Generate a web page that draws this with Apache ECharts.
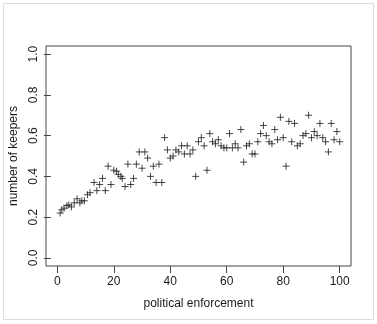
<!DOCTYPE html>
<html>
<head>
<meta charset="utf-8">
<script src="https://cdn.jsdelivr.net/npm/echarts@6/dist/echarts.min.js"></script>
<style>
  html, body { margin: 0; padding: 0; background: #fff; }
  #chart { width: 377px; height: 324px; }
</style>
</head>
<body>
<div id="chart"></div>
<script>
// Political enforcement level and the share of keepers observed at each level
const enforcement = [
  1, 1.6, 2.4, 3.4, 4.1, 5, 6, 7, 8, 8.7,
  9.6, 10.7, 11.6, 13, 14, 15, 16, 17, 18, 19,
  20, 21, 21.6, 22.5, 23, 24, 25, 26, 27, 28,
  29, 30, 31, 32, 33, 34, 35, 36, 37, 38,
  39, 40, 41, 42, 43, 44, 45, 46, 47, 48,
  49, 50, 51, 52, 53, 54, 55, 56, 57, 58,
  59, 60, 61, 62, 63, 64, 65, 66, 67, 68,
  69, 70, 71, 72, 73, 74, 75, 76, 77, 78,
  79, 80, 81, 82, 83, 84, 85, 86, 87, 88,
  89, 90, 91, 92, 93, 94, 95, 96, 97, 98,
  99, 100
];
const keepers = [
  0.22, 0.236, 0.244, 0.256, 0.26, 0.25, 0.27, 0.29, 0.27, 0.28,
  0.28, 0.31, 0.32, 0.37, 0.33, 0.36, 0.39, 0.33, 0.45, 0.36,
  0.43, 0.425, 0.41, 0.40, 0.39, 0.35, 0.46, 0.36, 0.39, 0.46,
  0.52, 0.44, 0.52, 0.49, 0.40, 0.45, 0.37, 0.46, 0.37, 0.59,
  0.53, 0.49, 0.50, 0.53, 0.52, 0.55, 0.51, 0.55, 0.51, 0.53,
  0.40, 0.57, 0.59, 0.55, 0.43, 0.61, 0.57, 0.56, 0.58, 0.55,
  0.54, 0.54, 0.61, 0.54, 0.56, 0.54, 0.63, 0.47, 0.55, 0.56,
  0.51, 0.51, 0.57, 0.61, 0.65, 0.60, 0.57, 0.56, 0.63, 0.58,
  0.69, 0.59, 0.45, 0.67, 0.57, 0.66, 0.55, 0.56, 0.60, 0.61,
  0.70, 0.59, 0.62, 0.60, 0.66, 0.59, 0.57, 0.52, 0.66, 0.58,
  0.62, 0.57
];
const xRange = [0, 100, 20];   // tick axis: min, max, step
const yRange = [0, 1, 0.2];
const pad = 0.04;              // plot region extends 4% past the tick range on each side

const points = enforcement.map((x, i) => [x, keepers[i]]);
const ink = '#1a1a1a';
const frame = '#444';
const font = '"Liberation Sans", Arial, sans-serif';

// Plot box in pixels
const W = 377, H = 324;
const box = { left: 46, right: 26, top: 46, bottom: 58 };
const bw = W - box.left - box.right, bh = H - box.top - box.bottom;
const xSpan = xRange[1] - xRange[0], ySpan = yRange[1] - yRange[0];
const xPadPx = bw * pad / (1 + 2 * pad);
const yPadPx = bh * pad / (1 + 2 * pad);

const chart = echarts.init(document.getElementById('chart'), null, { renderer: 'canvas' });
chart.setOption({
  animation: false,
  backgroundColor: '#fff',
  graphic: [{
    type: 'rect',
    shape: { x: 3.5, y: 3.5, width: 370, height: 316 },
    style: { fill: 'none', stroke: '#ddd', lineWidth: 1 },
    silent: true
  }],
  grid: [
    // data region with the surrounding box
    { left: box.left, right: box.right, top: box.top, bottom: box.bottom,
      show: true, borderColor: frame, borderWidth: 1, backgroundColor: 'transparent' },
    // bottom axis: same baseline as the box, horizontally inset to 0..100
    { left: box.left + xPadPx, right: box.right + xPadPx, top: box.top, bottom: box.bottom },
    // left axis: same edge as the box, vertically inset to 0..1
    { left: box.left, right: box.right, top: box.top + yPadPx, bottom: box.bottom + yPadPx }
  ],
  xAxis: [
    { gridIndex: 0, type: 'value', show: false,
      min: xRange[0] - pad * xSpan, max: xRange[1] + pad * xSpan },
    { gridIndex: 1, type: 'value', min: xRange[0], max: xRange[1], interval: xRange[2],
      name: 'political enforcement', nameLocation: 'middle', nameGap: 32,
      nameTextStyle: { color: ink, fontSize: 12, fontFamily: font },
      axisLine: { show: false },
      splitLine: { show: false },
      axisTick: { show: true, inside: false, length: 7, lineStyle: { color: frame } },
      axisLabel: { color: ink, fontSize: 12, fontFamily: font, margin: 10 } },
    { gridIndex: 2, type: 'value', show: false, min: 0, max: 1 }
  ],
  yAxis: [
    { gridIndex: 0, type: 'value', show: false,
      min: yRange[0] - pad * ySpan, max: yRange[1] + pad * ySpan },
    { gridIndex: 1, type: 'value', show: false, min: 0, max: 1 },
    { gridIndex: 2, type: 'value', min: yRange[0], max: yRange[1], interval: yRange[2],
      name: 'number of keepers', nameLocation: 'middle', nameGap: 28,
      nameTextStyle: { color: ink, fontSize: 12, fontFamily: font },
      axisLine: { show: false },
      splitLine: { show: false },
      axisTick: { show: true, inside: false, length: 7, lineStyle: { color: frame } },
      axisLabel: { color: ink, fontSize: 12, fontFamily: font, margin: 11, rotate: 90,
        formatter: v => v.toFixed(1) } }
  ],
  series: [{
    type: 'scatter',
    xAxisIndex: 0, yAxisIndex: 0,
    data: points,
    symbol: 'path://M0,5 L10,5 M5,0 L5,10',
    symbolSize: 7,
    itemStyle: { color: 'none', borderColor: ink, borderWidth: 1 }
  }]
});
</script>
</body>
</html>
